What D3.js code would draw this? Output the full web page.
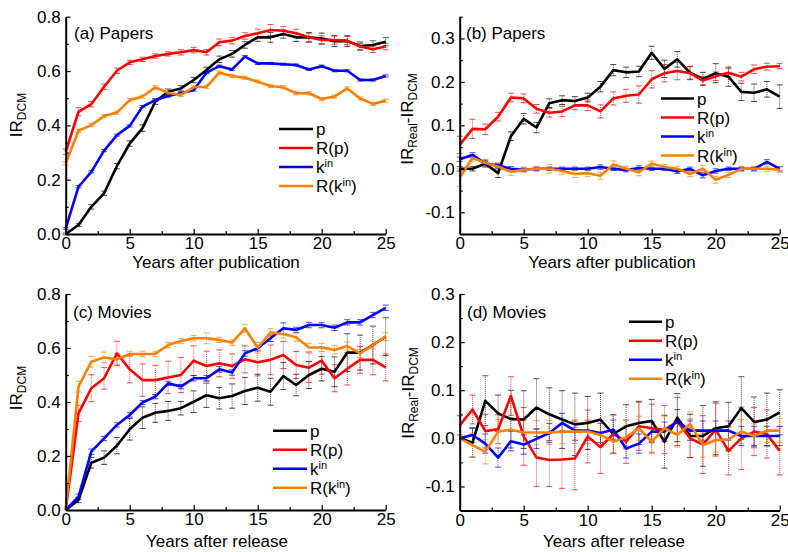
<!DOCTYPE html>
<html><head><meta charset="utf-8">
<script src="https://cdn.jsdelivr.net/npm/d3@7"></script>
<style>
body{margin:0;background:#fff;}
text{font-family:Arial,"Liberation Sans",sans-serif;}
</style></head>
<body>
<script>
// ---------- DATA ----------
const years = [0,1,2,3,4,5,6,7,8,9,10,11,12,13,14,15,16,17,18,19,20,21,22,23,24,25];
const seriesNames = ["p","R(p)","kin","R(kin)"];
const seriesColors = ["#000000","#ff0000","#0000ff","#ff8000"];

// (a) Papers IR_DCM
const aP   = [0.0,0.033,0.10,0.15,0.25,0.333,0.39,0.487,0.524,0.536,0.567,0.604,0.643,0.663,0.696,0.724,0.724,0.736,0.724,0.724,0.72,0.71,0.71,0.692,0.696,0.708];
const aRp  = [0.303,0.45,0.478,0.542,0.601,0.632,0.643,0.655,0.663,0.669,0.677,0.669,0.706,0.712,0.729,0.739,0.751,0.748,0.739,0.724,0.714,0.714,0.712,0.69,0.68,0.69];
const aK   = [0.02,0.174,0.229,0.307,0.364,0.398,0.469,0.493,0.508,0.518,0.53,0.594,0.618,0.606,0.653,0.628,0.628,0.625,0.622,0.606,0.618,0.601,0.601,0.567,0.567,0.582];
const aRk  = [0.26,0.38,0.401,0.434,0.447,0.493,0.506,0.54,0.52,0.512,0.54,0.542,0.594,0.582,0.575,0.561,0.545,0.54,0.518,0.518,0.497,0.506,0.536,0.499,0.479,0.491];
const aPErr  = [0.003,0.005,0.008,0.008,0.01,0.01,0.012,0.01,0.01,0.01,0.01,0.01,0.012,0.012,0.012,0.015,0.018,0.015,0.015,0.018,0.02,0.02,0.02,0.015,0.015,0.015];
const aRpErr = [0.01,0.015,0.01,0.01,0.01,0.008,0.008,0.008,0.008,0.01,0.01,0.01,0.012,0.012,0.012,0.015,0.02,0.015,0.015,0.015,0.015,0.015,0.015,0.012,0.012,0.012];
const aKErr  = [0.003,0.004,0.004,0.004,0.004,0.004,0.004,0.004,0.004,0.004,0.004,0.004,0.004,0.004,0.004,0.004,0.004,0.004,0.004,0.004,0.004,0.004,0.004,0.004,0.004,0.004];
const aRkErr = [0.006,0.006,0.006,0.006,0.006,0.006,0.006,0.006,0.006,0.006,0.006,0.006,0.006,0.006,0.006,0.006,0.006,0.006,0.006,0.006,0.006,0.006,0.006,0.006,0.006,0.006];

// (b) Papers IR_Real - IR_DCM
const bP   = [0.0,0.0,0.012,-0.01,0.075,0.115,0.095,0.151,0.158,0.156,0.164,0.189,0.227,0.222,0.224,0.267,0.23,0.252,0.221,0.207,0.22,0.212,0.177,0.175,0.183,0.166];
const bRp  = [0.055,0.092,0.091,0.12,0.164,0.162,0.138,0.129,0.132,0.146,0.146,0.132,0.162,0.168,0.171,0.206,0.22,0.225,0.22,0.203,0.213,0.221,0.212,0.229,0.235,0.236];
const bK   = [0.022,0.032,0.012,0.008,0.0,-0.002,0.0,0.0,0.0,0.0,0.0,0.004,0.0,-0.003,0.002,0.0,0.0,-0.006,0.0,-0.015,-0.005,0.0,0.0,0.0,0.016,0.0];
const bRk  = [-0.02,0.025,0.014,0.005,-0.007,-0.002,0.0,0.0,-0.005,-0.012,-0.01,-0.016,0.01,0.0,-0.008,0.012,0.004,0.0,-0.012,0.0,-0.025,-0.014,0.0,0.0,0.0,-0.002];
const bPErr  = [0.005,0.005,0.008,0.01,0.01,0.012,0.012,0.01,0.01,0.01,0.01,0.012,0.013,0.012,0.012,0.015,0.02,0.018,0.015,0.015,0.022,0.022,0.02,0.02,0.018,0.027];
const bRpErr = [0.02,0.022,0.012,0.01,0.01,0.01,0.01,0.01,0.012,0.01,0.012,0.015,0.015,0.015,0.02,0.02,0.02,0.02,0.015,0.01,0.01,0.01,0.01,0.01,0.008,0.006];
const bKErr  = [0.005,0.005,0.005,0.005,0.005,0.004,0.004,0.004,0.004,0.004,0.004,0.005,0.004,0.004,0.005,0.004,0.004,0.005,0.004,0.006,0.005,0.004,0.004,0.004,0.005,0.005];
const bRkErr = [0.02,0.008,0.008,0.008,0.008,0.006,0.006,0.01,0.008,0.008,0.008,0.008,0.008,0.006,0.008,0.006,0.006,0.006,0.006,0.008,0.008,0.006,0.006,0.006,0.006,0.006];

// (c) Movies IR_DCM
const cP   = [0.0,0.037,0.175,0.194,0.238,0.299,0.342,0.36,0.367,0.377,0.401,0.425,0.414,0.422,0.441,0.453,0.438,0.496,0.463,0.5,0.523,0.512,0.583,0.583,0.611,0.642];
const cRp  = [0.0,0.358,0.451,0.488,0.58,0.521,0.481,0.481,0.491,0.5,0.553,0.533,0.543,0.533,0.558,0.547,0.556,0.574,0.537,0.527,0.553,0.488,0.523,0.556,0.556,0.528];
const cK   = [0.0,0.049,0.216,0.265,0.315,0.352,0.398,0.42,0.469,0.457,0.488,0.488,0.521,0.509,0.58,0.599,0.636,0.673,0.667,0.685,0.685,0.675,0.695,0.695,0.722,0.749];
const cRk  = [0.0,0.457,0.549,0.565,0.558,0.578,0.578,0.578,0.611,0.626,0.636,0.636,0.63,0.62,0.673,0.601,0.657,0.652,0.64,0.602,0.602,0.593,0.607,0.58,0.611,0.642];
const cPErr  = [0.0,0.01,0.02,0.025,0.03,0.04,0.04,0.035,0.035,0.025,0.04,0.045,0.04,0.045,0.05,0.05,0.05,0.05,0.04,0.05,0.045,0.055,0.07,0.065,0.07,0.07];
const cRpErr = [0.0,0.03,0.05,0.04,0.045,0.05,0.06,0.055,0.06,0.065,0.055,0.055,0.05,0.045,0.05,0.05,0.055,0.05,0.05,0.055,0.05,0.05,0.06,0.05,0.055,0.05];
const cKErr  = [0.0,0.01,0.01,0.008,0.008,0.008,0.008,0.008,0.008,0.008,0.01,0.01,0.01,0.01,0.01,0.01,0.012,0.02,0.01,0.01,0.01,0.01,0.01,0.01,0.01,0.01];
const cRkErr = [0.0,0.02,0.02,0.02,0.02,0.01,0.01,0.01,0.01,0.01,0.01,0.02,0.01,0.01,0.015,0.02,0.015,0.015,0.015,0.015,0.015,0.015,0.015,0.015,0.015,0.015];

// (d) Movies IR_Real - IR_DCM
const dP   = [0.0,-0.009,0.078,0.052,0.04,0.039,0.064,0.05,0.039,0.029,0.032,0.039,0.009,0.025,0.032,0.036,-0.007,0.043,0.005,0.005,0.021,0.025,0.063,0.034,0.039,0.054];
const dRp  = [0.027,0.06,0.015,0.019,0.088,0.004,-0.04,-0.045,-0.044,-0.042,0.004,-0.018,0.009,-0.007,0.025,0.021,0.018,0.035,0.0,-0.013,0.018,-0.026,0.0,0.014,0.009,-0.026];
const dK   = [0.0,0.007,-0.011,-0.04,-0.006,-0.013,-0.001,0.011,0.032,0.016,0.016,0.011,0.018,-0.021,-0.011,0.014,0.014,0.035,0.016,0.016,0.016,0.016,0.005,0.005,0.005,0.005];
const dRk  = [0.0,-0.014,-0.028,0.014,0.018,0.012,0.012,0.012,0.014,0.014,0.014,0.007,-0.007,0.002,0.021,-0.007,0.021,0.007,0.03,-0.014,-0.004,-0.002,0.014,0.005,0.016,0.016];
const dPErr  = [0.0,0.03,0.052,0.038,0.06,0.06,0.06,0.055,0.06,0.065,0.055,0.055,0.04,0.045,0.045,0.045,0.055,0.05,0.045,0.063,0.055,0.05,0.065,0.052,0.055,0.047];
const dRpErr = [0.02,0.03,0.035,0.03,0.04,0.06,0.06,0.055,0.06,0.065,0.055,0.055,0.04,0.045,0.05,0.05,0.05,0.05,0.04,0.06,0.055,0.05,0.065,0.05,0.05,0.05];
const dKErr  = [0.0,0.015,0.02,0.02,0.02,0.02,0.02,0.02,0.02,0.02,0.02,0.02,0.02,0.02,0.02,0.02,0.02,0.025,0.02,0.02,0.02,0.02,0.02,0.02,0.02,0.02];
const dRkErr = [0.0,0.025,0.025,0.025,0.025,0.025,0.025,0.025,0.025,0.025,0.025,0.025,0.025,0.025,0.025,0.025,0.025,0.025,0.025,0.025,0.025,0.025,0.025,0.025,0.025,0.025];

// tick values
const xTicks = [0,5,10,15,20,25];
const xMinor = [2.5,7.5,12.5,17.5,22.5];
const yTicksDCM = [0.0,0.2,0.4,0.6,0.8];
const yMinorDCM = [0.1,0.3,0.5,0.7];
const yTicksDiff = [-0.1,0.0,0.1,0.2,0.3];
const yMinorDiff = [-0.05,0.05,0.15,0.25];
const yMinorDiffB = [-0.05,0.05,0.15,0.25,0.35];

// ---------- LAYOUT ----------
const W = 788, H = 552;
const svg = d3.select("body").append("svg").attr("width", W).attr("height", H);
const FS = 17;

const panels = [
  {label:"(a) Papers", xTitle:"Years after publication", yLab:"dcm", dom:[0,0.8], yt:yTicksDCM, ym:yMinorDCM,
   L:65.7, R:385.7, T:16.7, B:234, vals:[aP,aRp,aK,aRk], errs:[aPErr,aRpErr,aKErr,aRkErr],
   leg:{x1:279, x2:313, y0:129, dy:19}, labPos:[74,39], yLabPos:[22,115], xTitlePos:[216,268]},
  {label:"(b) Papers", xTitle:"Years after publication", yLab:"diff", dom:[-0.15,0.35], yt:yTicksDiff, ym:yMinorDiffB,
   L:459.7, R:779.7, T:16.7, B:234, vals:[bP,bRp,bK,bRk], errs:[bPErr,bRpErr,bKErr,bRkErr],
   leg:{x1:661, x2:694, y0:98.5, dy:19}, labPos:[466,39], yLabPos:[413,119], xTitlePos:[612,268]},
  {label:"(c) Movies", xTitle:"Years after release", yLab:"dcm", dom:[0,0.8], yt:yTicksDCM, ym:yMinorDCM,
   L:65.7, R:385.7, T:294, B:510, vals:[cP,cRp,cK,cRk], errs:[cPErr,cRpErr,cKErr,cRkErr],
   leg:{x1:273, x2:307, y0:430.7, dy:19}, labPos:[73,318], yLabPos:[22,388], xTitlePos:[217,547]},
  {label:"(d) Movies", xTitle:"Years after release", yLab:"diff", dom:[-0.15,0.3], yt:yTicksDiff, ym:yMinorDiff,
   L:459.7, R:779.7, T:294, B:510.5, vals:[dP,dRp,dK,dRk], errs:[dPErr,dRpErr,dKErr,dRkErr],
   leg:{x1:629, x2:662, y0:321.7, dy:19}, labPos:[467,318], yLabPos:[414,393], xTitlePos:[614,547]}
];

const fmt = v => d3.format(".1f")(v).replace("\u2212","-");

panels.forEach(p => {
  const g = svg.append("g");
  const x = d3.scaleLinear().domain([0,25]).range([p.L, p.R]);
  const y = d3.scaleLinear().domain(p.dom).range([p.B, p.T]);

  // series: error bars then lines
  p.vals.forEach((vals, si) => {
    const col = seriesColors[si];
    const errs = p.errs[si];
    const eg = g.append("g").attr("stroke", col).attr("stroke-opacity", 0.7).attr("stroke-width", 1);
    years.forEach((yr, i) => {
      const e = errs[i];
      if (e <= 0) return;
      const xc = x(yr), y1 = y(vals[i]-e), y2 = y(vals[i]+e);
      eg.append("line").attr("x1", xc).attr("x2", xc).attr("y1", y1).attr("y2", y2)
        .attr("stroke-dasharray", "1,1");
      eg.append("line").attr("x1", xc-3).attr("x2", xc+3).attr("y1", y1).attr("y2", y1);
      eg.append("line").attr("x1", xc-3).attr("x2", xc+3).attr("y1", y2).attr("y2", y2);
    });
  });
  p.vals.forEach((vals, si) => {
    const line = d3.line().x((d,i) => x(years[i])).y(d => y(d));
    g.append("path").datum(vals).attr("d", line).attr("fill","none")
      .attr("stroke", seriesColors[si]).attr("stroke-width", 2.6).attr("stroke-linejoin","round");
  });

  // axes
  g.append("g").attr("transform", `translate(0,${p.B})`)
    .call(d3.axisBottom(x).tickValues(xTicks).tickFormat(d3.format("d")).tickSizeInner(-5).tickSizeOuter(0).tickPadding(3));
  g.append("g").attr("transform", `translate(0,${p.B})`)
    .call(d3.axisBottom(x).tickValues(xMinor).tickFormat("").tickSizeInner(-3).tickSizeOuter(0))
    .call(s => s.select(".domain").remove());
  g.append("g").attr("transform", `translate(${p.L},0)`)
    .call(d3.axisLeft(y).tickValues(p.yt).tickFormat(fmt).tickSizeInner(-5).tickSizeOuter(0).tickPadding(5));
  g.append("g").attr("transform", `translate(${p.L},0)`)
    .call(d3.axisLeft(y).tickValues(p.ym).tickFormat("").tickSizeInner(-3).tickSizeOuter(0))
    .call(s => s.select(".domain").remove());
  g.selectAll(".domain").attr("stroke","#000").attr("stroke-width",2);
  g.selectAll(".tick line").attr("stroke","#000").attr("stroke-width",1.2);
  g.selectAll(".tick text").attr("font-size", FS).attr("fill","#000")
    .style("font-family", "Arial, 'Liberation Sans', sans-serif");

  // panel label
  g.append("text").attr("x", p.labPos[0]).attr("y", p.labPos[1]).attr("font-size", FS).text(p.label);

  // x title
  g.append("text").attr("x", p.xTitlePos[0]).attr("y", p.xTitlePos[1]).attr("font-size", FS)
    .attr("text-anchor","middle").text(p.xTitle);

  // y title
  const yt = g.append("text").attr("transform", `translate(${p.yLabPos[0]},${p.yLabPos[1]}) rotate(-90)`)
    .attr("text-anchor","middle").attr("font-size", FS);
  if (p.yLab === "dcm") {
    yt.append("tspan").text("IR");
    yt.append("tspan").attr("font-size", 12).attr("dy", 4).text("DCM");
  } else {
    yt.append("tspan").text("IR");
    yt.append("tspan").attr("font-size", 12).attr("dy", 4).text("Real");
    yt.append("tspan").attr("dy", -4).text("-IR");
    yt.append("tspan").attr("font-size", 12).attr("dy", 4).text("DCM");
  }

  // legend
  seriesNames.forEach((nm, si) => {
    const yy = p.leg.y0 + si * p.leg.dy;
    g.append("line").attr("x1", p.leg.x1).attr("x2", p.leg.x2).attr("y1", yy).attr("y2", yy)
      .attr("stroke", seriesColors[si]).attr("stroke-width", 2.6);
    const t = g.append("text").attr("x", p.leg.x2 + 3).attr("y", yy + 6).attr("font-size", FS);
    if (nm === "p") t.text("p");
    else if (nm === "R(p)") t.text("R(p)");
    else if (nm === "kin") {
      t.append("tspan").text("k");
      t.append("tspan").attr("font-size", 11).attr("dy", -6).text("in");
    } else {
      t.append("tspan").text("R(k");
      t.append("tspan").attr("font-size", 11).attr("dy", -6).text("in");
      t.append("tspan").attr("dy", 6).text(")");
    }
  });
});
</script>
</body></html>
